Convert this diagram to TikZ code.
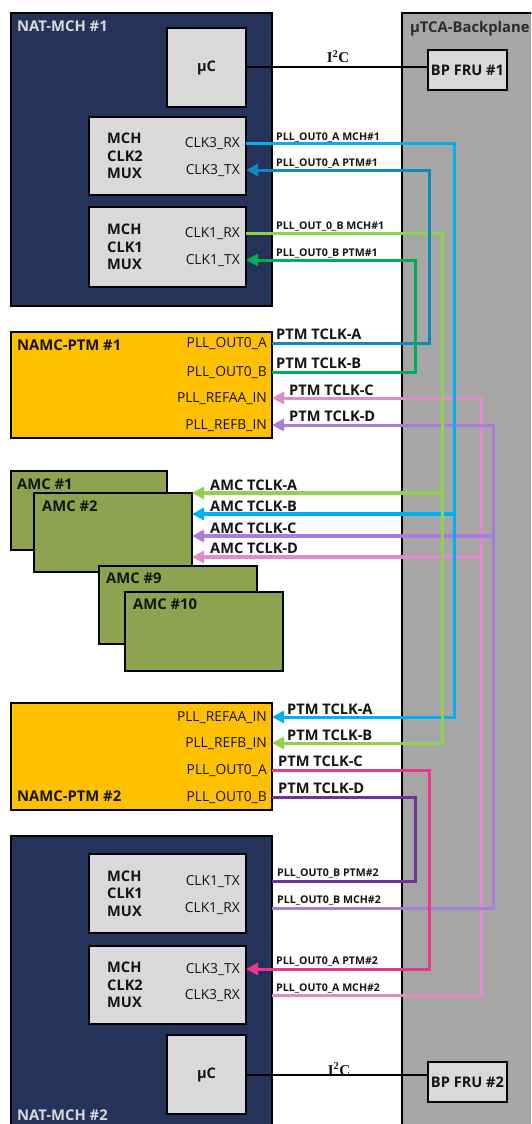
\documentclass[tikz,border=0pt]{standalone}
\usepackage{fontspec}
\setmainfont{Open Sans}
\newfontfamily\serifb{Liberation Serif}
\usetikzlibrary{arrows.meta,positioning}
\definecolor{navy}{RGB}{37,50,90}
\definecolor{lgray}{RGB}{217,217,217}
\definecolor{bpgray}{RGB}{166,166,166}
\definecolor{amber}{RGB}{255,192,0}
\definecolor{olive}{RGB}{142,162,80}
\definecolor{ccyan}{RGB}{0,176,240}
\definecolor{cteal}{RGB}{16,135,190}
\definecolor{clime}{RGB}{146,208,80}
\definecolor{cgreen}{RGB}{0,176,80}
\definecolor{cpink}{RGB}{224,138,208}
\definecolor{cviolet}{RGB}{172,124,220}
\definecolor{cmagenta}{RGB}{232,56,138}
\definecolor{cplum}{RGB}{112,48,160}
\definecolor{ink}{RGB}{20,20,20}

\begin{document}
\begin{tikzpicture}[x=1pt, y=-1pt, >={Triangle[length=12pt,width=12pt]},
  box/.style={draw=black, line width=1.5pt, inner sep=0pt, outer sep=0pt, anchor=north west},
  chip/.style={box, fill=lgray, text=ink, font=\fontsize{14.6}{17}\selectfont\bfseries},
  hd/.style={inner sep=0pt, anchor=base west, text=ink, font=\fontsize{14.8}{17}\selectfont\bfseries},
  muxtxt/.style={inner sep=0pt, anchor=west, align=left, text=ink, font=\fontsize{14.6}{17.5}\selectfont\bfseries},
  port/.style={inner sep=0pt, anchor=east, text height=9.8pt, text depth=0pt, text=ink, font=\fontsize{13.8}{16}\selectfont},
  tag/.style={inner sep=0pt, anchor=base west, text=ink, font=\fontsize{14.6}{16}\selectfont\bfseries},
  tagsm/.style={inner sep=0pt, anchor=base west, text=ink, font=\fontsize{10.6}{12}\selectfont\bfseries},
  iic/.style={inner sep=0pt, anchor=base, text=ink, font=\serifb\fontsize{15}{16}\selectfont\bfseries},
  wire/.style={line width=3pt},
  bus/.style={line width=2pt, draw=black}]
\clip (0,0) rectangle (531,1124);

\node[box, fill=bpgray, minimum width=140pt, minimum height=1130pt] (bp) at (402,13) {};
\node[hd, text=ink!90] (bpttl) at (410,33) {µTCA-Backplane};
\node[chip, minimum width=79pt, minimum height=40pt] (fru1) at (428,50) {BP FRU \#1};
\node[chip, minimum width=79pt, minimum height=40pt] (fru2) at (428,1062) {BP FRU \#2};

% NAT-MCH #1
\node[box, fill=navy, minimum width=261pt, minimum height=293pt] (mch1) at (11,13) {};
\node[hd, text=lgray] (mch1ttl) at (17,32) {NAT-MCH \#1};
\node[chip, minimum width=79pt, minimum height=79pt] (uc1) at (167,28) {µC};
\node[chip, minimum width=157pt, minimum height=78pt] (mux2a) at (89,117) {};
\node[muxtxt] (mux2atxt) at (107,156) {MCH\\CLK2\\MUX};
\node[port] (rx3a) at (240,143) {CLK3\_RX};
\node[port] (tx3a) at (240,170) {CLK3\_TX};
\node[chip, minimum width=157pt, minimum height=80pt] (mux1a) at (89,207) {};
\node[muxtxt] (mux1atxt) at (107,247) {MCH\\CLK1\\MUX};
\node[port] (rx1a) at (240,233) {CLK1\_RX};
\node[port] (tx1a) at (240,260) {CLK1\_TX};

% NAMC-PTM #1
\node[box, fill=amber, minimum width=261pt, minimum height=106pt] (ptm1) at (11,332) {};
\node[hd] (ptm1ttl) at (17,350) {NAMC-PTM \#1};
\node[port] (oa1) at (267,343) {PLL\_OUT0\_A};
\node[port] (ob1) at (267,372) {PLL\_OUT0\_B};
\node[port] (ra1) at (267,398) {PLL\_REFAA\_IN};
\node[port] (rb1) at (267,425) {PLL\_REFB\_IN};

% AMCs
\node[box, fill=olive, minimum width=156pt, minimum height=79pt] (amc1) at (11,471) {};
\node[hd] (amc1ttl) at (17,489) {AMC \#1};
\node[box, fill=olive, minimum width=158pt, minimum height=79pt] (amc2) at (34,493) {};
\node[hd] (amc2ttl) at (42,511) {AMC \#2};
\node[box, fill=olive, minimum width=158pt, minimum height=78pt] (amc9) at (99,566) {};
\node[hd] (amc9ttl) at (106,583) {AMC \#9};
\node[box, fill=olive, minimum width=158pt, minimum height=79pt] (amc10) at (125,592) {};
\node[hd] (amc10ttl) at (133,609) {AMC \#10};

% NAMC-PTM #2
\node[box, fill=amber, minimum width=261pt, minimum height=107pt] (ptm2) at (11,703) {};
\node[hd] (ptm2ttl) at (17,801) {NAMC-PTM \#2};
\node[port] (ra2) at (267,717) {PLL\_REFAA\_IN};
\node[port] (rb2) at (267,743) {PLL\_REFB\_IN};
\node[port] (oa2) at (267,770) {PLL\_OUT0\_A};
\node[port] (ob2) at (267,797) {PLL\_OUT0\_B};

% NAT-MCH #2
\node[box, fill=navy, minimum width=261pt, minimum height=300pt] (mch2) at (11,836) {};
\node[hd, text=lgray] (mch2ttl) at (17,1120) {NAT-MCH \#2};
\node[chip, minimum width=157pt, minimum height=79pt] (mux1b) at (89,854) {};
\node[muxtxt] (mux1btxt) at (107,893.5) {MCH\\CLK1\\MUX};
\node[port] (tx1b) at (240,881) {CLK1\_TX};
\node[port] (rx1b) at (240,908) {CLK1\_RX};
\node[chip, minimum width=157pt, minimum height=78pt] (mux2b) at (89,946) {};
\node[muxtxt] (mux2btxt) at (107,985) {MCH\\CLK2\\MUX};
\node[port] (tx3b) at (240,969) {CLK3\_TX};
\node[port] (rx3b) at (240,995) {CLK3\_RX};
\node[chip, minimum width=79pt, minimum height=79pt] (uc2) at (167,1035) {µC};

% tracks on the backplane
\coordinate (tG) at (415,0);
\coordinate (tDB) at (429,0);
\coordinate (tLG) at (442,0);
\coordinate (tC) at (454,0);
\coordinate (tP) at (481,0);
\coordinate (tV) at (493,0);
\coordinate (amcA) at (192,493);
\coordinate (amcB) at (192,514);
\coordinate (amcC) at (192,536);
\coordinate (amcD) at (192,557);

\draw[bus] (uc1.east) -- (uc1.east -| fru1.west);
\draw[bus] (uc2.east) -- (uc2.east -| fru2.west);
\node[iic] (iic1) at (338,62.5) {I\textsuperscript{2}C};
\node[iic] (iic2) at (339,1075) {I\textsuperscript{2}C};

\draw[wire, cpink, ->] (mch2.east |- rx3b) -| (tP |- ra1) -- (ptm1.east |- ra1);
\draw[wire, cviolet, ->] (mch2.east |- rx1b) -| (tV |- rb1) -- (ptm1.east |- rb1);
\draw[wire, line width=3.5pt, cviolet, ->] (tV |- amcC) -- (amcC);
\draw[wire, line width=3.5pt, cpink, ->] (tP |- amcD) -- (amcD);
\draw[wire, ccyan, ->] (mux2a.east |- rx3a) -| (tC |- ra2) -- (ptm2.east |- ra2);
\draw[wire, line width=3.5pt, ccyan, ->] (tC |- amcB) -- (amcB);
\draw[wire, clime, ->] (mux1a.east |- rx1a) -| (tLG |- rb2) -- (ptm2.east |- rb2);
\draw[wire, line width=3.5pt, clime, ->] (tLG |- amcA) -- (amcA);
\draw[wire, cteal, ->] (ptm1.east |- oa1) -| (tDB |- tx3a) -- (mux2a.east |- tx3a);
\draw[wire, cgreen, ->] (ptm1.east |- ob1) -| (tG |- tx1a) -- (mux1a.east |- tx1a);
\draw[wire, cmagenta, ->] (ptm2.east |- oa2) -| (tDB |- tx3b) -- (mux2b.east |- tx3b);
\draw[wire, cplum] (ptm2.east |- ob2) -| (tG |- tx1b) -- (mch2.east |- tx1b);

\node[tagsm] (l1) at (276,140) {PLL\_OUT0\_A MCH\#1};
\node[tagsm] (l2) at (276,166.5) {PLL\_OUT0\_A PTM\#1};
\node[tagsm] (l3) at (276,229) {PLL\_OUT\_0\_B MCH\#1};
\node[tagsm] (l4) at (276,256) {PLL\_OUT0\_B PTM\#1};
\node[tag] (l5) at (276,339) {PTM TCLK-A};
\node[tag] (l6) at (276,368) {PTM TCLK-B};
\node[tag] (l7) at (289,395) {PTM TCLK-C};
\node[tag] (l8) at (289,421) {PTM TCLK-D};
\node[tag] (l9) at (210,490) {AMC TCLK-A};
\node[tag] (l10) at (210,511) {AMC TCLK-B};
\node[tag] (l11) at (210,533) {AMC TCLK-C};
\node[tag] (l12) at (210,553) {AMC TCLK-D};
\node[tag] (l13) at (287,714) {PTM TCLK-A};
\node[tag] (l14) at (287,740) {PTM TCLK-B};
\node[tag] (l15) at (278,766) {PTM TCLK-C};
\node[tag] (l16) at (278,793) {PTM TCLK-D};
\node[tagsm] (l17) at (277,876) {PLL\_OUT0\_B PTM\#2};
\node[tagsm] (l18) at (277,903) {PLL\_OUT0\_B MCH\#2};
\node[tagsm] (l19) at (276,964) {PLL\_OUT0\_A PTM\#2};
\node[tagsm] (l20) at (276,991) {PLL\_OUT0\_A MCH\#2};
\end{tikzpicture}
\end{document}
